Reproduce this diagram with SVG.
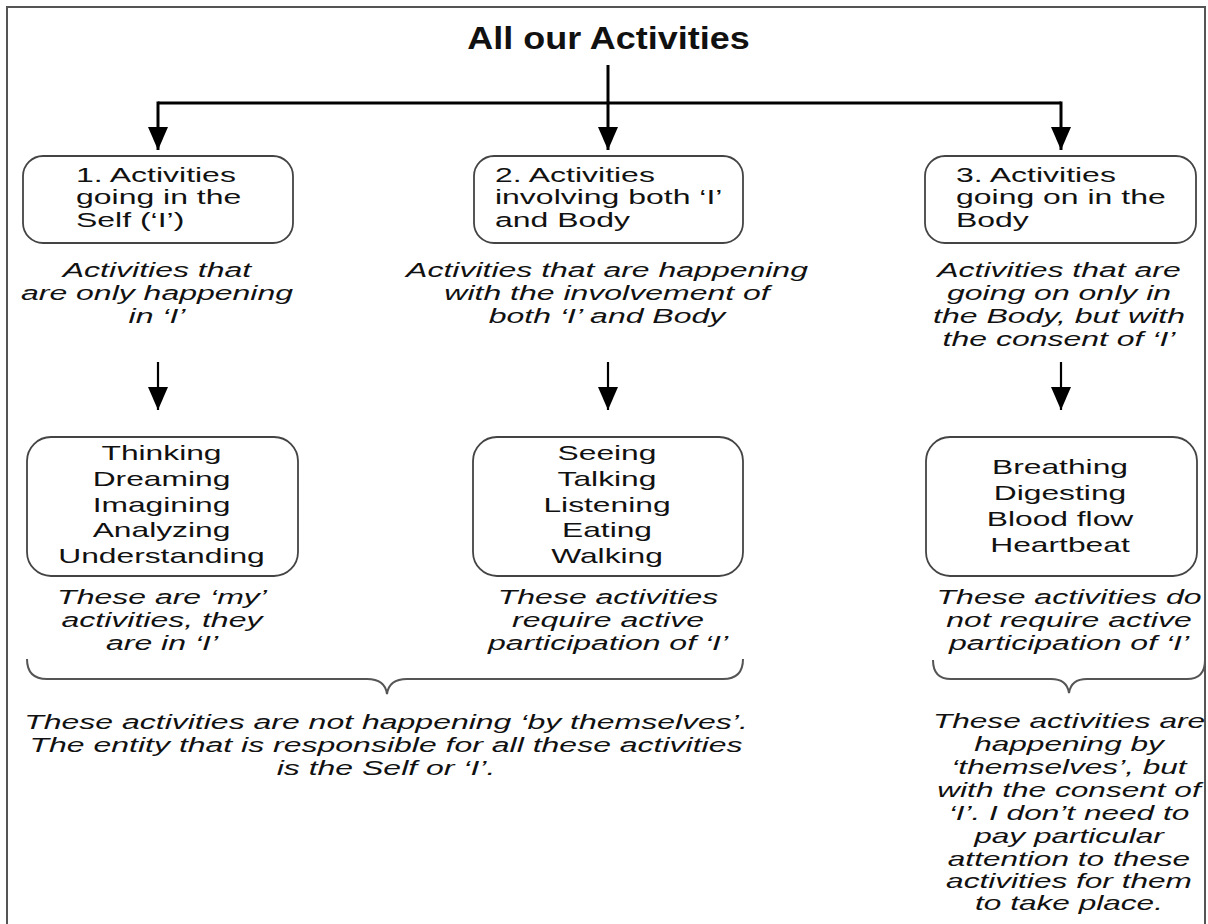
<svg xmlns="http://www.w3.org/2000/svg" width="1208" height="924" viewBox="0 0 1208 924">
  <style>
    .frame { fill: none; stroke: #555; stroke-width: 2; }
    .box { fill: #fff; stroke: #444; stroke-width: 1.8; }
    .link { fill: none; stroke: #000; stroke-width: 3; }
    .link-thin { fill: none; stroke: #000; stroke-width: 2.2; }
    .brace { fill: none; stroke: #555; stroke-width: 2; }
    text { font-family: "Liberation Sans", Arial, sans-serif; fill: #111; }
    .title { font-size: 31px; font-weight: bold; text-anchor: middle; }
    .head { font-size: 19.5px; text-anchor: start; }
    .list { font-size: 20.5px; text-anchor: middle; }
    .note { font-size: 20px; font-style: italic; text-anchor: middle; }
  </style>
  <defs>
    <marker id="arrowhead" markerUnits="userSpaceOnUse" markerWidth="23" markerHeight="20" viewBox="0 0 23 20" refX="23" refY="10" orient="auto">
      <path d="M0,0 L23,10 L0,20 Z" fill="#000"/>
    </marker>
  </defs>

  <rect width="1208" height="924" fill="#fff"/>
  <path class="frame" d="M7,924 V7 H1205 V924"/>

  <g id="title">
    <g transform="translate(608.5,0) scale(1.16,1)">
      <text class="title" x="0" y="49">All our Activities</text>
    </g>
  </g>

  <!-- connectors -->
  <g id="connectors">
    <path class="link" d="M608,65 V150" marker-end="url(#arrowhead)"/>
    <path class="link" d="M158,103 H1061"/>
    <path class="link" d="M158,101.5 V150" marker-end="url(#arrowhead)"/>
    <path class="link" d="M1061,101.5 V150" marker-end="url(#arrowhead)"/>
    <path class="link-thin" d="M158,362 V410" marker-end="url(#arrowhead)"/>
    <path class="link-thin" d="M608,362 V410" marker-end="url(#arrowhead)"/>
    <path class="link-thin" d="M1061,362 V410" marker-end="url(#arrowhead)"/>
    <path class="brace" d="M27,659 Q27,679 47,679 H367 Q385,679 387,694 Q389,679 407,679 H723 Q743,679 743,659"/>
    <path class="brace" d="M933,660 Q933,679 951,679 H1051 Q1067,679 1069,693 Q1071,679 1087,679 H1187 Q1205,679 1205,660"/>
  </g>

  <!-- category 1: the Self -->
  <g id="cat-self">
    <rect class="box" x="23" y="156" width="270" height="87" rx="20"/>
    <g transform="translate(76,0) scale(1.64,1)">
      <text class="head" x="0" y="182">1. Activities</text>
      <text class="head" x="0" y="204.5">going in the</text>
      <text class="head" x="0" y="227">Self (‘I’)</text>
    </g>
  </g>
  <g id="desc-self">
    <g transform="translate(157,0) scale(1.6,1)">
      <text class="note" x="0" y="277">Activities that</text>
      <text class="note" x="0" y="300">are only happening</text>
      <text class="note" x="0" y="323">in ‘I’</text>
    </g>
  </g>
  <g id="list-self">
    <rect class="box" x="27" y="437" width="271" height="139" rx="24"/>
    <g transform="translate(161.5,0) scale(1.55,1)">
      <text class="list" x="0" y="460">Thinking</text>
      <text class="list" x="0" y="486">Dreaming</text>
      <text class="list" x="0" y="512">Imagining</text>
      <text class="list" x="0" y="537.5">Analyzing</text>
      <text class="list" x="0" y="563">Understanding</text>
    </g>
  </g>
  <g id="note-self">
    <g transform="translate(162,0) scale(1.6,1)">
      <text class="note" x="0" y="604">These are ‘my’</text>
      <text class="note" x="0" y="627">activities, they</text>
      <text class="note" x="0" y="650">are in ‘I’</text>
    </g>
  </g>

  <!-- category 2: the Self and the Body -->
  <g id="cat-both">
    <rect class="box" x="474" y="156" width="269" height="87" rx="20"/>
    <g transform="translate(495,0) scale(1.64,1)">
      <text class="head" x="0" y="182">2. Activities</text>
      <text class="head" x="0" y="204.5">involving both ‘I’</text>
      <text class="head" x="0" y="227">and Body</text>
    </g>
  </g>
  <g id="desc-both">
    <g transform="translate(607,0) scale(1.6,1)">
      <text class="note" x="0" y="277">Activities that are happening</text>
      <text class="note" x="0" y="300">with the involvement of</text>
      <text class="note" x="0" y="323">both ‘I’ and Body</text>
    </g>
  </g>
  <g id="list-both">
    <rect class="box" x="473" y="437" width="270" height="139" rx="24"/>
    <g transform="translate(607,0) scale(1.55,1)">
      <text class="list" x="0" y="460">Seeing</text>
      <text class="list" x="0" y="486">Talking</text>
      <text class="list" x="0" y="512">Listening</text>
      <text class="list" x="0" y="537.5">Eating</text>
      <text class="list" x="0" y="563">Walking</text>
    </g>
  </g>
  <g id="note-both">
    <g transform="translate(608,0) scale(1.6,1)">
      <text class="note" x="0" y="604">These activities</text>
      <text class="note" x="0" y="627">require active</text>
      <text class="note" x="0" y="650">participation of ‘I’</text>
    </g>
  </g>

  <!-- category 3: the Body -->
  <g id="cat-body">
    <rect class="box" x="925" y="156" width="271" height="87" rx="20"/>
    <g transform="translate(956,0) scale(1.64,1)">
      <text class="head" x="0" y="182">3. Activities</text>
      <text class="head" x="0" y="204.5">going on in the</text>
      <text class="head" x="0" y="227">Body</text>
    </g>
  </g>
  <g id="desc-body">
    <g transform="translate(1059,0) scale(1.6,1)">
      <text class="note" x="0" y="277">Activities that are</text>
      <text class="note" x="0" y="300">going on only in</text>
      <text class="note" x="0" y="323">the Body, but with</text>
      <text class="note" x="0" y="346">the consent of ‘I’</text>
    </g>
  </g>
  <g id="list-body">
    <rect class="box" x="926" y="437" width="271" height="139" rx="24"/>
    <g transform="translate(1060,0) scale(1.55,1)">
      <text class="list" x="0" y="474">Breathing</text>
      <text class="list" x="0" y="500">Digesting</text>
      <text class="list" x="0" y="526">Blood flow</text>
      <text class="list" x="0" y="552">Heartbeat</text>
    </g>
  </g>
  <g id="note-body">
    <g transform="translate(1069,0) scale(1.6,1)">
      <text class="note" x="0" y="604">These activities do</text>
      <text class="note" x="0" y="627">not require active</text>
      <text class="note" x="0" y="650">participation of ‘I’</text>
    </g>
  </g>

  <!-- conclusions under the braces -->
  <g id="summary-self">
    <g transform="translate(386,0) scale(1.6,1)">
      <text class="note" x="0" y="729">These activities are not happening ‘by themselves’.</text>
      <text class="note" x="0" y="752">The entity that is responsible for all these activities</text>
      <text class="note" x="0" y="775">is the Self or ‘I’.</text>
    </g>
  </g>
  <g id="summary-body">
    <g transform="translate(1069,0) scale(1.58,1)">
      <text class="note" x="0" y="728">These activities are</text>
      <text class="note" x="0" y="751">happening by</text>
      <text class="note" x="0" y="774">‘themselves’, but</text>
      <text class="note" x="0" y="797">with the consent of</text>
      <text class="note" x="0" y="820">‘I’. I don’t need to</text>
      <text class="note" x="0" y="843">pay particular</text>
      <text class="note" x="0" y="866">attention to these</text>
      <text class="note" x="0" y="888">activities for them</text>
      <text class="note" x="0" y="910">to take place.</text>
    </g>
  </g>
</svg>
